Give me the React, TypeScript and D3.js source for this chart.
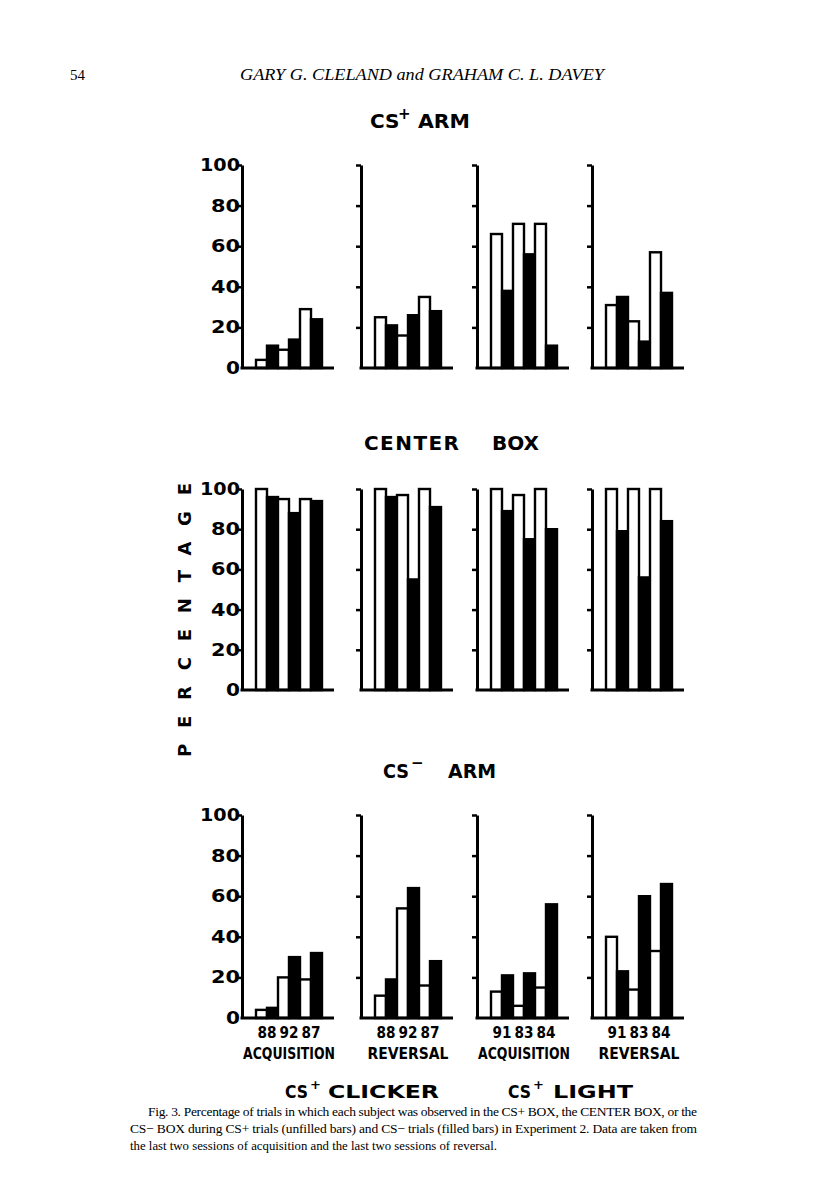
import * as React from 'react';
import * as d3 from 'd3';

// subjects per group, phase under each panel
const clickerSubjects = ['88', '92', '87'];
const lightSubjects = ['91', '83', '84'];
const panelSubjects = [clickerSubjects, clickerSubjects, lightSubjects, lightSubjects];
const panelPhases = ['ACQUISITION', 'REVERSAL', 'ACQUISITION', 'REVERSAL'];
const tickValues = [0, 20, 40, 60, 80, 100];

// percentages; one entry per panel, one value per subject
// unfilled = CS+ trials, filled = CS- trials
const csPlusArmUnfilled = [[4, 9, 29], [25, 16, 35], [66, 71, 71], [31, 23, 57]];
const csPlusArmFilled = [[11, 14, 24], [21, 26, 28], [38, 56, 11], [35, 13, 37]];
const centerUnfilled = [[100, 95, 95], [100, 97, 100], [100, 97, 100], [100, 100, 100]];
const centerFilled = [[96, 88, 94], [96, 55, 91], [89, 75, 80], [79, 56, 84]];
const csMinusArmUnfilled = [[4, 20, 19], [11, 54, 16], [13, 6, 15], [40, 14, 33]];
const csMinusArmFilled = [[5, 30, 32], [19, 64, 28], [21, 22, 56], [23, 60, 66]];

const rowsUnfilled = [csPlusArmUnfilled, centerUnfilled, csMinusArmUnfilled];
const rowsFilled = [csPlusArmFilled, centerFilled, csMinusArmFilled];

const rowBase = [368, 690, 1018];
const rowTop = [165, 489, 815];
const panelX = [242, 361, 477, 592];
const panelW = 92;

const FIG = '"DejaVu Sans", sans-serif';
const SERIF = '"Liberation Serif", serif';

const App = () => {
  const gRef = React.useRef<SVGGElement>(null);

  React.useEffect(() => {
    const root = d3.select(gRef.current);
    root.selectAll('*').remove();

    rowsUnfilled.forEach((rowU, ri) => {
      const y = d3.scaleLinear().domain([0, 100]).range([rowBase[ri], rowTop[ri]]);
      const x = d3.scaleBand<number>().domain(d3.range(6)).range([14, 80]);

      rowU.forEach((vals, pi) => {
        const g = root.append('g').attr('transform', `translate(${panelX[pi]},0)`);
        const bars = vals.flatMap((u, k) => [
          { i: k * 2, v: u, filled: false },
          { i: k * 2 + 1, v: rowsFilled[ri][pi][k], filled: true },
        ]);

        g.selectAll('rect')
          .data(bars)
          .join('rect')
          .attr('x', (d) => x(d.i))
          .attr('width', x.bandwidth())
          .attr('y', (d) => y(d.v))
          .attr('height', (d) => y(0) - y(d.v))
          .attr('fill', (d) => (d.filled ? '#000' : '#fff'))
          .attr('stroke', '#000')
          .attr('stroke-width', 2.4);

        const axis = d3.axisLeft(y)
          .tickValues([20, 40, 60, 80, 100])
          .tickSize(5)
          .tickSizeOuter(0)
          .tickFormat(() => '');
        const ag = g.append('g').call(axis);
        ag.select('.domain').attr('stroke', '#000').attr('stroke-width', 3);
        ag.selectAll('.tick line').attr('stroke', '#000').attr('stroke-width', 2.5);

        g.append('line')
          .attr('x1', -1.5).attr('x2', panelW)
          .attr('y1', y(0)).attr('y2', y(0))
          .attr('stroke', '#000').attr('stroke-width', 3);

        if (pi === 0) {
          g.selectAll('text.lab')
            .data(tickValues)
            .join('text')
            .attr('class', 'lab')
            .attr('x', -2)
            .attr('y', (d) => y(d) + 6)
            .attr('text-anchor', 'end')
            .attr('font-family', FIG)
            .attr('font-weight', 'bold')
            .attr('font-size', 17)
            .attr('textLength', (d) => (d === 100 ? 40 : d === 0 ? 14 : 29))
            .attr('lengthAdjust', 'spacingAndGlyphs')
            .text((d) => `${d}`);
        }

        if (ri === 2) {
          panelSubjects[pi].forEach((s, k) => {
            g.append('text')
              .attr('x', (x(k * 2)! + x(k * 2 + 1)! + x.bandwidth()) / 2)
              .attr('y', y(0) + 20)
              .attr('text-anchor', 'middle')
              .attr('font-family', FIG)
              .attr('font-weight', 'bold')
              .attr('font-size', 15)
              .attr('textLength', 19)
              .attr('lengthAdjust', 'spacingAndGlyphs')
              .text(s);
          });
          const phase = panelPhases[pi];
          g.append('text')
            .attr('x', 47)
            .attr('y', y(0) + 41)
            .attr('text-anchor', 'middle')
            .attr('font-family', FIG)
            .attr('font-weight', 'bold')
            .attr('font-size', 16)
            .attr('textLength', phase === 'ACQUISITION' ? 92 : 81)
            .attr('lengthAdjust', 'spacingAndGlyphs')
            .text(phase);
        }
      });
    });
  }, []);

  const bold = { fontFamily: FIG, fontWeight: 'bold' as const };

  return (
    <svg
      width={816}
      height={1200}
      style={{ position: 'absolute', left: 0, top: 0, background: '#fff' }}
    >
      <rect width={816} height={1200} fill="#fff" />
      <text x={70} y={80} fontFamily={SERIF} fontSize={15}>54</text>
      <text x={240} y={80} fontFamily={SERIF} fontStyle="italic" fontSize={17}
        textLength={364} lengthAdjust="spacingAndGlyphs">
        GARY G. CLELAND and GRAHAM C. L. DAVEY
      </text>

      <text x={370} y={128} {...bold} fontSize={20}>CS</text>
      <text x={398} y={119} {...bold} fontSize={15}>+</text>
      <text x={418} y={128} {...bold} fontSize={20} textLength={52} lengthAdjust="spacingAndGlyphs">ARM</text>

      <text x={364} y={450} {...bold} fontSize={20} textLength={95} lengthAdjust="spacing">CENTER</text>
      <text x={492} y={450} {...bold} fontSize={20} textLength={47} lengthAdjust="spacing">BOX</text>

      <text x={383} y={778} {...bold} fontSize={20} textLength={26} lengthAdjust="spacingAndGlyphs">CS</text>
      <text x={411} y={768} {...bold} fontSize={15}>−</text>
      <text x={448} y={778} {...bold} fontSize={20} textLength={48} lengthAdjust="spacingAndGlyphs">ARM</text>

      <text
        transform="translate(191,757) rotate(-90)"
        {...bold}
        fontSize={18}
        textLength={274}
        lengthAdjust="spacing"
      >
        PERCENTAGE
      </text>

      <text x={285} y={1098} {...bold} fontSize={18} textLength={23} lengthAdjust="spacingAndGlyphs">CS</text>
      <text x={310} y={1089} {...bold} fontSize={13}>+</text>
      <text x={328} y={1098} {...bold} fontSize={18} textLength={111} lengthAdjust="spacingAndGlyphs">CLICKER</text>
      <text x={508} y={1098} {...bold} fontSize={18} textLength={23} lengthAdjust="spacingAndGlyphs">CS</text>
      <text x={533} y={1089} {...bold} fontSize={13}>+</text>
      <text x={553} y={1098} {...bold} fontSize={18} textLength={80} lengthAdjust="spacingAndGlyphs">LIGHT</text>

      <g ref={gRef} />

      <g fontFamily={SERIF} fontSize={13.5}>
        <text x={148} y={1116} textLength={549} lengthAdjust="spacing">
          Fig. 3. Percentage of trials in which each subject was observed in the CS+ BOX, the CENTER BOX, or the
        </text>
        <text x={130} y={1133} textLength={567} lengthAdjust="spacing">
          CS− BOX during CS+ trials (unfilled bars) and CS− trials (filled bars) in Experiment 2. Data are taken from
        </text>
        <text x={130} y={1150} textLength={367} lengthAdjust="spacingAndGlyphs">
          the last two sessions of acquisition and the last two sessions of reversal.
        </text>
      </g>
    </svg>
  );
};

export default App;
